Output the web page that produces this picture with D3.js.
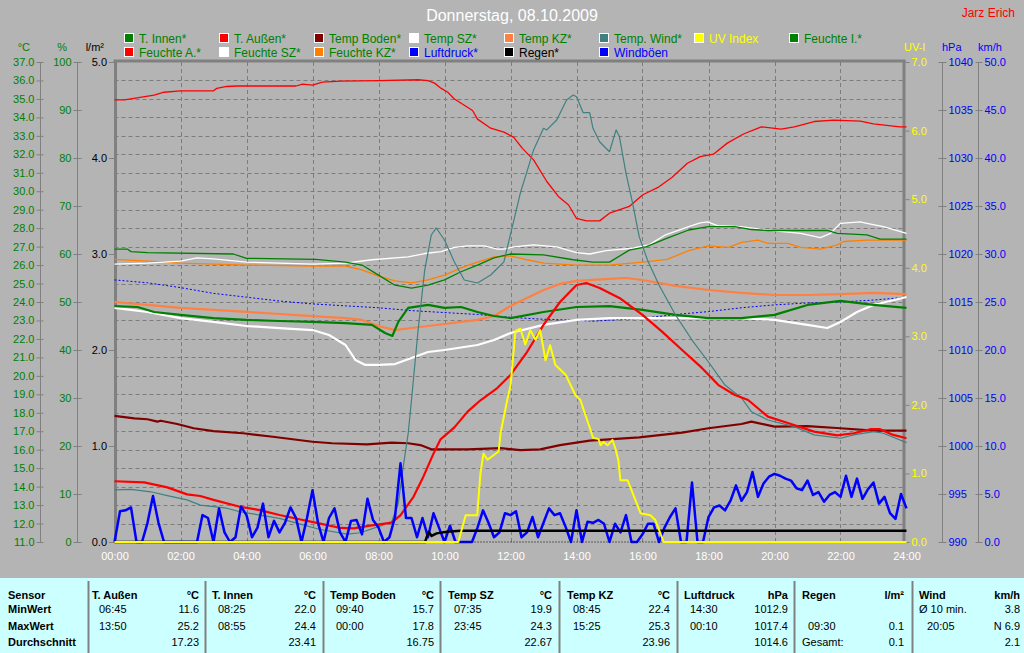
<!DOCTYPE html>
<html><head><meta charset="utf-8">
<script src="https://cdn.jsdelivr.net/npm/d3@7"></script>
<style>
body{margin:0;background:#b4b4b4;}
svg{display:block;font-family:"Liberation Sans",Arial,sans-serif;}
</style></head><body>
<svg id="c" width="1024" height="653"></svg>
<script>
// ---------- DATA (hour, value) ----------
const xTickLabels = ["00:00","02:00","04:00","06:00","08:00","10:00","12:00","14:00","16:00","18:00","20:00","22:00","24:00"];
const tempTicks = d3.range(11, 37.01, 1);
const humTicks = [0,10,20,30,40,50,60,70,80,90,100];
const rainTicks = [0,1,2,3,4,5];
const uvTicks = [0,1,2,3,4,5,6,7];
const pressTicks = [990,995,1000,1005,1010,1015,1020,1025,1030,1035,1040];
const windTicks = [0,5,10,15,20,25,30,35,40,45,50];

const tAussen = [[0,14.29],[0.9,14.23],[1.6,13.96],[2.2,13.58],[2.6,13.49],[3.0,13.28],[3.8,12.91],[4.4,12.73],[5.0,12.46],[5.6,12.23],[6.2,12.01],[6.85,11.76],[7.25,11.74],[7.7,11.87],[8.4,12.05],[8.67,12.46],[9.06,13.45],[9.36,14.54],[9.67,15.80],[9.88,16.56],[10.3,17.21],[10.7,18.06],[11.1,18.69],[11.6,19.34],[12.0,20.05],[12.5,21.29],[13.0,22.76],[13.5,24.00],[14.0,24.92],[14.3,25.03],[14.7,24.76],[15.3,24.22],[16.0,23.30],[16.6,22.38],[17.2,21.40],[17.8,20.43],[18.3,19.50],[18.8,18.96],[19.2,18.69],[19.8,17.79],[20.5,17.39],[21.2,16.98],[21.9,16.78],[22.4,16.89],[22.9,17.11],[23.2,17.11],[23.6,16.80],[24,16.62]];
const tWind = [[0,13.82],[0.5,13.85],[1.1,13.72],[1.6,13.51],[2.2,13.28],[2.6,13.00],[3.4,12.83],[3.8,12.64],[4.4,12.46],[5.0,12.28],[5.6,11.98],[6.2,11.69],[7.05,11.43],[7.45,11.50],[8.06,11.87],[8.4,12.10],[8.6,13.10],[8.75,15.08],[8.9,16.89],[9.0,18.69],[9.2,22.48],[9.4,25.73],[9.6,27.63],[9.75,28.01],[10.0,27.36],[10.3,26.17],[10.6,25.19],[11.0,25.03],[11.4,25.46],[11.8,26.17],[12.3,29.91],[12.7,32.24],[13.0,33.41],[13.1,33.32],[13.4,33.86],[13.7,34.94],[13.9,35.21],[14.0,35.12],[14.2,34.26],[14.4,34.26],[14.5,33.41],[14.7,32.68],[15.0,32.14],[15.2,33.32],[15.3,32.96],[15.5,30.97],[15.7,29.35],[15.9,27.54],[16.15,26.28],[16.5,24.92],[17.0,23.30],[17.5,21.94],[18.0,20.75],[18.5,19.50],[19.0,18.80],[19.3,18.06],[19.8,17.61],[20.6,17.25],[21.2,16.80],[22.0,16.62],[22.4,16.80],[23.0,16.98],[23.3,16.89],[24,16.38]];
const tBoden = [[0,17.83],[0.6,17.70],[1.0,17.65],[1.3,17.52],[1.4,17.57],[1.9,17.39],[2.4,17.16],[3.0,17.01],[3.9,16.89],[4.8,16.70],[6.0,16.43],[6.6,16.35],[7.65,16.29],[8.4,16.38],[8.9,16.35],[9.27,16.25],[9.6,16.02],[10.7,16.02],[11.7,16.08],[12.3,15.98],[12.9,16.02],[13.5,16.25],[14.4,16.49],[15.9,16.67],[17.2,16.92],[18.0,17.16],[19.0,17.39],[19.3,17.52],[20.0,17.25],[21.0,17.28],[22.0,17.16],[23.0,17.03],[24,17.03]];
const tInnen = [[0,23.78],[0.7,23.73],[1.2,23.46],[2,23.30],[3,23.13],[4,23.03],[5,22.97],[6,22.92],[7,22.86],[7.8,22.76],[8.2,22.32],[8.42,22.16],[8.6,22.92],[8.9,23.68],[9.5,23.84],[10,23.68],[10.5,23.73],[11,23.46],[11.5,23.24],[12,23.13],[13,23.46],[14,23.73],[15,23.78],[16,23.57],[17,23.30],[18,23.13],[19,23.13],[20,23.30],[21,23.84],[22,24.06],[23,23.84],[24,23.68]];
const tSZ = [[0,23.68],[0.5,23.57],[1,23.46],[2,23.13],[3,22.92],[4,22.70],[5,22.59],[6,22.48],[6.5,22.21],[7.0,21.67],[7.3,20.86],[7.6,20.59],[8.0,20.59],[8.5,20.64],[9.0,20.97],[9.5,21.29],[10,21.40],[11,21.67],[11.5,21.94],[12,22.32],[13,22.76],[14,23.03],[15,23.13],[19,23.13],[20,23.03],[21,22.76],[21.6,22.59],[22,22.92],[22.5,23.46],[23,23.84],[24,24.27]];
const tKZ = [[0,24.0],[1,23.84],[2,23.68],[3,23.57],[4,23.46],[5,23.35],[6,23.24],[7,23.13],[7.5,23.03],[8,22.70],[8.5,22.48],[9,22.59],[9.5,22.70],[10,22.81],[11,23.03],[11.5,23.24],[12,23.78],[12.5,24.22],[13,24.65],[13.5,24.98],[14,25.14],[15,25.25],[15.5,25.30],[16,25.19],[17,24.87],[18,24.65],[19,24.49],[20,24.38],[21,24.38],[22,24.43],[23,24.49],[24,24.43]];
const feuchteA = [[0,92.1],[0.3,92.1],[1.2,93.1],[1.5,93.7],[2.0,94.0],[3.0,94.0],[3.1,94.5],[3.4,94.9],[3.7,95.0],[5.5,95.0],[5.7,95.4],[6.0,95.2],[6.3,95.8],[6.85,96.0],[8.0,96.1],[9.2,96.3],[9.5,96.1],[9.7,95.6],[9.9,94.5],[10.1,93.7],[10.3,92.3],[10.6,91.0],[10.85,89.9],[11.0,88.1],[11.4,86.2],[11.8,85.4],[12.1,84.3],[12.36,82.0],[12.7,79.6],[13.1,75.1],[13.45,72.0],[13.76,70.2],[14.0,67.4],[14.3,66.9],[14.7,66.9],[15.0,68.5],[15.6,69.9],[16.0,72.3],[16.5,74.0],[16.9,76.0],[17.36,78.9],[17.75,80.3],[18.15,80.8],[18.57,83.1],[19.06,85.0],[19.6,86.5],[20.2,86.0],[20.6,86.5],[21.2,87.6],[21.8,87.9],[22.6,87.7],[23.0,87.1],[23.8,86.5],[24,86.5]];
const feuchteI = [[0,61.0],[0.4,61.0],[0.5,60.5],[1.0,60.3],[3.6,60.0],[4.0,59.1],[6.1,58.9],[7,58.3],[7.5,57.7],[8,55.6],[8.5,53.5],[9.0,52.9],[9.5,53.5],[10,54.6],[10.5,56.3],[11,57.7],[11.5,59.2],[12,60.0],[13,59.8],[13.9,58.8],[14.5,58.3],[15,58.3],[15.6,60.8],[16.1,61.5],[16.75,63.3],[17.4,65.0],[18,65.7],[18.8,65.7],[19.3,65.1],[19.8,64.9],[21.6,64.9],[21.9,64.3],[22.8,64.0],[23.2,63.1],[24,63.1]];
const feuchteSZ = [[0,57.9],[1,58.1],[2,58.5],[2.5,59.2],[3,59.0],[4,58.3],[5,58.1],[6,57.9],[7,58.1],[7.8,58.8],[8.9,59.4],[9.4,60.1],[9.9,60.5],[10.3,61.4],[10.7,61.7],[11.2,61.7],[11.6,61.0],[11.8,61.0],[12.1,61.5],[12.7,61.9],[13.4,61.5],[14.0,60.3],[14.4,60.0],[14.9,60.7],[15.7,61.2],[16.2,61.9],[16.7,64.0],[17.4,65.7],[17.75,66.5],[17.97,66.7],[18.27,65.9],[18.97,65.7],[19.79,65.0],[20.79,64.3],[21.39,63.4],[21.7,64.3],[22.0,66.4],[22.6,66.7],[22.8,66.4],[23.3,65.7],[24,64.3]];
const feuchteKZ = [[0,58.9],[1,58.5],[2,58.1],[3,57.9],[4,57.7],[6,57.5],[7,57.5],[7.5,56.7],[8,55.4],[8.5,54.4],[9,54.0],[9.5,54.6],[10,55.6],[10.5,57.1],[11,58.3],[11.5,59.4],[12,59.6],[12.5,58.8],[13,58.1],[14,57.7],[15,57.7],[16,58.3],[16.75,58.9],[17.4,60.7],[18,61.7],[18.6,61.4],[19.0,62.4],[19.5,62.9],[19.8,62.2],[20.4,62.2],[20.8,61.4],[21.4,61.0],[21.9,61.9],[22.1,62.6],[22.8,62.9],[24,62.9]];
const luftdruck = [[0,1017.3],[1,1017.0],[2,1016.5],[3,1015.9],[4,1015.5],[5,1015.1],[6,1014.8],[7,1014.6],[8,1014.4],[9,1014.1],[10,1013.9],[11,1013.7],[12,1013.4],[13,1013.2],[14,1013.1],[14.5,1013.0],[15,1013.1],[16,1013.3],[17,1013.7],[18,1014.0],[19,1014.4],[20,1014.7],[21,1014.9],[22,1015.0],[23,1015.2],[24,1015.5]];
const uvIndex = [[0,0],[10.42,0],[10.64,0.39],[10.99,0.39],[11.09,1.0],[11.18,1.29],[11.3,1.20],[11.64,1.32],[11.7,1.59],[11.9,2.07],[12.0,2.28],[12.15,3.08],[12.3,3.11],[12.45,2.88],[12.6,3.09],[12.76,2.95],[12.9,3.09],[13.06,2.65],[13.2,2.87],[13.36,2.58],[13.67,2.44],[13.97,2.14],[14.12,2.07],[14.2,1.95],[14.42,1.64],[14.5,1.52],[14.67,1.50],[14.73,1.41],[14.82,1.46],[14.94,1.41],[15.09,1.49],[15.18,1.36],[15.27,1.19],[15.33,0.90],[15.55,0.90],[15.94,0.42],[16.24,0.39],[16.39,0.32],[16.64,0],[24,0]];
const regen = [[0,0],[9.41,0],[9.52,0.107],[9.61,0.063],[9.76,0.09],[10.07,0.107],[10.47,0.118],[24,0.118]];
const regenRate = [[0,0],[24,0]];
// gusts every 10 minutes, 00:00 .. 24:00
const windboeen = [0,3.2,3.3,3.6,0,0,2.0,4.8,2.0,0, 0,0,0,0,0,0,2.8,2.5,0,3.5, 1.0,0,0.5,3.7,2.8,0.5,1.5,4.0,0.5,2.2, 1.0,2.0,3.6,2.5,0,2.5,5.4,2.0,0,2.5, 3.5,1.0,0,2.2,2.3,0.8,4.5,2.3,1.5,0, 0.5,2.6,8.2,2.5,2.5,0.5,2.5,0.5,3.0,1.5, 0,1.7,0,0,0,0,1.5,3.3,2.0,0.5, 1.0,3.0,2.8,3.2,0.5,1.0,2.6,0.5,2.0,3.5, 2.8,3.0,1.6,0,3.3,0,2.1,2.0,2.3,1.9, 0,1.9,1.0,2.8,0,0,0.8,1.9,1.9,0, 1.5,2.6,3.5,0,0,6.2,0,0,2.6,3.6, 3.8,3.3,4.3,5.9,4.3,5.2,7.3,4.7,6.1,6.8, 7.1,6.9,6.6,6.4,5.6,5.4,6.4,4.9,5.2,4.2, 4.9,5.2,4.7,6.9,4.7,6.6,4.5,5.5,6.2,4.0, 4.7,3.0,2.4,5.0,3.5];

const legendItems = [
  ["T. Innen*","#008000","#008000"],["T. Außen*","#ff0000","#008000"],["Temp Boden*","#800000","#008000"],["Temp SZ*","#ffffff","#008000"],
  ["Temp KZ*","#ff8040","#008000"],["Temp. Wind*","#408080","#008000"],["UV Index","#ffff00","#ffff00"],["Feuchte I.*","#008000","#008000"],
  ["Feuchte A.*","#ff0000","#008000"],["Feuchte SZ*","#ffffff","#008000"],["Feuchte KZ*","#ff8000","#008000"],["Luftdruck*","#0000ff","#0000ff"],
  ["Regen*","#000000","#000000"],["Windböen","#0000ff","#0000ff"]];

const tableHeaders = ["T. Außen","T. Innen","Temp Boden","Temp SZ","Temp KZ","Luftdruck","Regen","Wind"];
const tableUnits = ["°C","°C","°C","°C","°C","hPa","l/m²","km/h"];
const minTimes = ["06:45","08:25","09:40","07:35","08:45","14:30","","Ø 10 min."];
const minVals = ["11.6","22.0","15.7","19.9","22.4","1012.9","","3.8"];
const maxTimes = ["13:50","08:55","00:00","23:45","15:25","00:10","09:30","20:05"];
const maxVals = ["25.2","24.4","17.8","24.3","25.3","1017.4","0.1","N 6.9"];
const avgLabels = ["","","","","","","Gesamt:",""];
const avgVals = ["17.23","23.41","16.75","22.67","23.96","1014.6","0.1","2.1"];
const rowLabels = ["Sensor","MinWert","MaxWert","Durchschnitt"];

// ---------- LAYOUT ----------
const svg = d3.select("#c");
const pTop = 62, pBot = 542, L = 114.5, R = 906.5;
const x = d3.scaleLinear([0,24],[L,R]);
const yT = d3.scaleLinear([11,37],[pBot,pTop]);
const yH = d3.scaleLinear([0,100],[pBot,pTop]);
const yR = d3.scaleLinear([0,5],[pBot,pTop]);
const yUV = d3.scaleLinear([0,7],[pBot,pTop]);
const yP = d3.scaleLinear([990,1040],[pBot,pTop]);
const yW = d3.scaleLinear([0,50],[pBot,pTop]);

svg.append("rect").attr("width",1024).attr("height",653).attr("fill","#b4b4b4");

// title
svg.append("text").attr("x",512).attr("y",21).attr("text-anchor","middle").attr("fill","#ffffff")
  .attr("font-size",16).text("Donnerstag, 08.10.2009");
svg.append("text").attr("x",1015).attr("y",17).attr("text-anchor","end").attr("fill","#ff0000")
  .attr("font-size",12).text("Jarz Erich");

// legend
legendItems.forEach((d,i)=>{
  const col = i<8 ? i : i-8, row = i<8 ? 0 : 1;
  const lx = 124 + col*95, ly = row ? 47 : 33;
  svg.append("rect").attr("x",lx+0.5).attr("y",ly+0.5).attr("width",9).attr("height",9)
    .attr("fill",d[1]).attr("stroke","#ffffff").attr("stroke-width",1);
  svg.append("text").attr("x",lx+15).attr("y",ly+10).attr("fill",d[2]).attr("font-size",12).text(d[0]);
});

// grid
const grid = svg.append("g").attr("stroke","#7c7c7c").attr("stroke-width",1).attr("stroke-dasharray","4,3");
d3.range(12,37).forEach(v=>grid.append("line").attr("x1",L).attr("x2",R-3).attr("y1",Math.round(yT(v))+0.5).attr("y2",Math.round(yT(v))+0.5));
d3.range(2,24,2).forEach(h=>grid.append("line").attr("y1",pTop).attr("y2",pBot).attr("x1",Math.round(x(h))+0.5).attr("x2",Math.round(x(h))+0.5));

// axis helper
function styleAxis(g,color){
  g.select(".domain").remove();
  g.selectAll(".tick line").attr("stroke","#808080");
  g.selectAll(".tick text").attr("fill",color).attr("font-size",11).attr("font-family","Liberation Sans, Arial, sans-serif");
}
function vline(xx,color){ svg.append("line").attr("x1",xx).attr("x2",xx).attr("y1",pTop).attr("y2",pBot).attr("stroke",color).attr("stroke-width",1); }

vline(40.5,"#808080");
let g = svg.append("g").attr("transform","translate(43.5,0)").call(d3.axisLeft(yT).tickValues(tempTicks).tickFormat(d3.format(".1f")).tickSize(7).tickPadding(2));
styleAxis(g,"#008000");
vline(77.5,"#808080");
g = svg.append("g").attr("transform","translate(81.5,0)").call(d3.axisLeft(yH).tickValues(humTicks).tickFormat(d3.format("d")).tickSize(8).tickPadding(2));
styleAxis(g,"#008000");
g = svg.append("g").attr("transform","translate(114,0)").call(d3.axisLeft(yR).tickValues(rainTicks).tickFormat(d3.format(".1f")).tickSize(5).tickPadding(2));
styleAxis(g,"#000000");
g = svg.append("g").attr("transform","translate(905.5,0)").call(d3.axisRight(yUV).tickValues(uvTicks).tickFormat(d3.format(".1f")).tickSize(4).tickPadding(2));
styleAxis(g,"#ffff00");
vline(942.5,"#808080");
g = svg.append("g").attr("transform","translate(938.5,0)").call(d3.axisRight(yP).tickValues(pressTicks).tickFormat(d3.format("d")).tickSize(8).tickPadding(2));
styleAxis(g,"#0000ff");
vline(978.5,"#808080");
g = svg.append("g").attr("transform","translate(975.5,0)").call(d3.axisRight(yW).tickValues(windTicks).tickFormat(d3.format(".1f")).tickSize(7).tickPadding(2));
styleAxis(g,"#0000ff");

// x axis
g = svg.append("g").attr("transform",`translate(0,${pBot})`).call(d3.axisBottom(x).tickValues(d3.range(0,25,2)).tickFormat((d,i)=>xTickLabels[i]).tickSize(0).tickPadding(10));
styleAxis(g,"#ffffff");

// axis titles
const at = (t,xx,anchor,color)=>svg.append("text").attr("x",xx).attr("y",51).attr("text-anchor",anchor).attr("fill",color).attr("font-size",11).text(t);
at("°C",30,"end","#008000"); at("%",67,"end","#008000"); at("l/m²",104,"end","#000000");
at("UV-I",904,"start","#ffff00"); at("hPa",942,"start","#0000ff"); at("km/h",978,"start","#0000ff");

// plot frame
svg.append("line").attr("x1",L-1).attr("x2",R-1).attr("y1",61).attr("y2",61).attr("stroke","#808080").attr("stroke-width",3);
svg.append("line").attr("x1",115.5).attr("x2",115.5).attr("y1",60).attr("y2",pBot).attr("stroke","#808080").attr("stroke-width",3);
svg.append("line").attr("x1",904).attr("x2",904).attr("y1",60).attr("y2",pBot).attr("stroke","#808080").attr("stroke-width",3);

// series
function draw(data, ys, color, width, dash){
  const line = d3.line().x(d=>x(d[0])).y(d=>ys(d[1]));
  const p = svg.append("path").datum(data).attr("d",line).attr("fill","none").attr("stroke",color)
    .attr("stroke-width",width).attr("stroke-linejoin","round");
  if(dash) p.attr("stroke-dasharray",dash);
}
draw(luftdruck, yP, "#0000ff", 1, "2,2");
draw(feuchteKZ, yH, "#ff8000", 1.3);
draw(feuchteSZ, yH, "#ffffff", 1.3);
draw(feuchteI, yH, "#008000", 1.3);
draw(feuchteA, yH, "#ff0000", 1.3);
draw(tKZ, yT, "#ff8040", 2.2);
draw(tSZ, yT, "#ffffff", 2.2);
draw(tInnen, yT, "#008000", 2.2);
draw(tBoden, yT, "#800000", 2.2);
draw(tWind, yT, "#408080", 1.2);
draw(tAussen, yT, "#ff0000", 2.2);
draw(windboeen.map((v,i)=>[i/6,v]), yW, "#0000ff", 2.5);
draw(regenRate, yR, "#000000", 1, "1,2");
draw(regen, yR, "#000000", 2.5);
draw(uvIndex, yUV, "#ffff00", 2);

// ---------- TABLE ----------
svg.append("rect").attr("x",0).attr("y",578).attr("width",1024).attr("height",75).attr("fill","#ccffff");
const seps = [88,205,323,440,559,677,794,912];
seps.forEach(s=>svg.append("line").attr("x1",s+0.5).attr("x2",s+0.5).attr("y1",581).attr("y2",653).attr("stroke","#808080").attr("stroke-width",2));
const rowsY = [599,613,630,646];
rowLabels.forEach((t,i)=>svg.append("text").attr("x",8).attr("y",rowsY[i]).attr("font-size",11).attr("font-weight","bold").attr("fill","#000").text(t));
const headX = [92,212,330,448,567,684,802,919];
const timeX = [99,218,336,454,573,690,808,927];
const valX = [199,316,434,552,670,788,904,1020];
const tt = (t,xx,yy,anchor,bold)=>svg.append("text").attr("x",xx).attr("y",yy).attr("text-anchor",anchor)
  .attr("font-size",11).attr("font-weight",bold?"bold":"normal").attr("fill","#000").text(t);
tableHeaders.forEach((h,i)=>{
  tt(h,headX[i],rowsY[0],"start",true);
  tt(tableUnits[i],valX[i],rowsY[0],"end",true);
  tt(minTimes[i], i===7?919:timeX[i], rowsY[1],"start",false);
  tt(minVals[i],valX[i],rowsY[1],"end",false);
  tt(maxTimes[i],timeX[i],rowsY[2],"start",false);
  tt(maxVals[i],valX[i],rowsY[2],"end",false);
  tt(avgLabels[i],headX[i],rowsY[3],"start",false);
  tt(avgVals[i],valX[i],rowsY[3],"end",false);
});
</script>
</body></html>
